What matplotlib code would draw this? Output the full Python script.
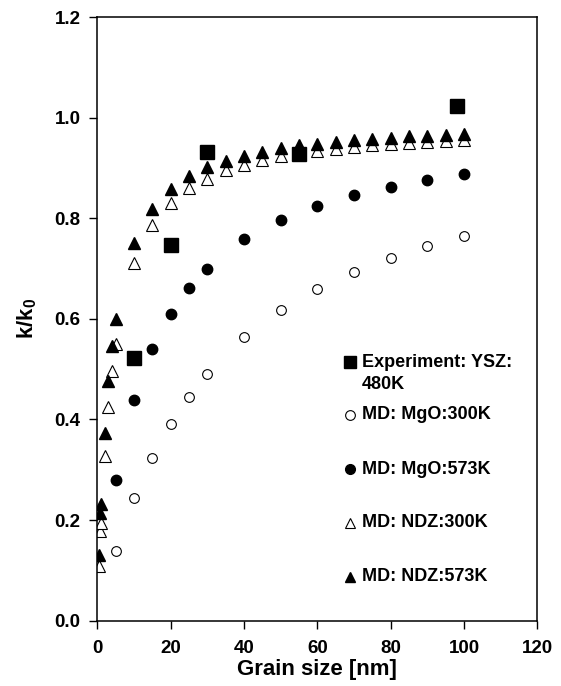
import matplotlib
matplotlib.use("Agg")
import matplotlib.pyplot as plt
from matplotlib.ticker import FormatStrFormatter

plt.rcParams['font.family'] = ['Liberation Sans', 'DejaVu Sans']
plt.rcParams['font.weight'] = 'bold'
plt.rcParams['mathtext.fontset'] = 'custom'
plt.rcParams['mathtext.rm'] = 'Liberation Sans:bold'
plt.rcParams['mathtext.bf'] = 'Liberation Sans:bold'

# experiment, YSZ 480K
exp_x = [10, 20, 30, 55, 98]
exp_y = [0.522, 0.747, 0.932, 0.928, 1.024]

# MD MgO
mgo_x = [5, 10, 15, 20, 25, 30, 40, 50, 60, 70, 80, 90, 100]
mgo300_y = [0.139, 0.243, 0.324, 0.391, 0.445, 0.491, 0.563, 0.617, 0.659, 0.693, 0.721, 0.744, 0.764]
mgo573_y = [0.280, 0.438, 0.540, 0.610, 0.662, 0.700, 0.758, 0.797, 0.825, 0.846, 0.863, 0.877, 0.888]

# MD NDZ
ndz_x = [0.5, 0.75, 1, 2, 3, 4, 5, 10, 15, 20, 25, 30, 35, 40, 45, 50,
         55, 60, 65, 70, 75, 80, 85, 90, 95, 100]
ndz300_y = [0.108, 0.178, 0.194, 0.327, 0.424, 0.496, 0.551, 0.711, 0.786, 0.830, 0.860, 0.878, 0.895,
            0.905, 0.916, 0.923, 0.928, 0.934, 0.938, 0.942, 0.945, 0.948, 0.950, 0.952, 0.953, 0.956]
ndz573_y = [0.130, 0.214, 0.231, 0.374, 0.476, 0.546, 0.599, 0.750, 0.818, 0.858, 0.883, 0.901, 0.914,
            0.924, 0.932, 0.939, 0.945, 0.948, 0.952, 0.956, 0.958, 0.960, 0.963, 0.964, 0.966, 0.968]

labels = ["Experiment: YSZ:", "MD: MgO:300K", "MD: MgO:573K", "MD: NDZ:300K", "MD: NDZ:573K"]

fig = plt.figure(figsize=(5.61, 6.86), dpi=100)
ax = fig.add_axes([0.1734, 0.0952, 0.7843, 0.880])

ax.plot(mgo_x, mgo300_y, 'o', ms=7, mfc='white', mec='black', mew=0.8, ls='none')
ax.plot(mgo_x, mgo573_y, 'o', ms=7.5, mfc='black', mec='black', ls='none')
ax.plot(ndz_x, ndz300_y, '^', ms=8, mfc='white', mec='black', mew=0.8, ls='none')
ax.plot(ndz_x, ndz573_y, '^', ms=8, mfc='black', mec='black', ls='none')
ax.plot(exp_x, exp_y, 's', ms=10.5, mfc='black', mec='black', ls='none')

# legend drawn by hand
leg_y = [0.428, 0.341, 0.251, 0.162, 0.073]
styles = [dict(marker='s', ms=8.5, mfc='black'),
          dict(marker='o', ms=7, mfc='white', mew=0.8),
          dict(marker='o', ms=7, mfc='black'),
          dict(marker='^', ms=7.5, mfc='white', mew=0.8),
          dict(marker='^', ms=7.5, mfc='black')]
for lab, yy, st in zip(labels, leg_y, styles):
    ax.plot([0.574], [yy], transform=ax.transAxes, mec='black', ls='none', clip_on=False, **st)
    ax.text(0.601, yy, lab, transform=ax.transAxes, fontsize=13, fontweight='bold', va='center', ha='left')
ax.text(0.601, 0.392, "480K", transform=ax.transAxes, fontsize=13, fontweight='bold', va='center', ha='left')

ax.set_xlim(0, 120)
ax.set_ylim(0, 1.2)
ax.set_xticks(range(0, 121, 20))
ax.set_yticks([0.0, 0.2, 0.4, 0.6, 0.8, 1.0, 1.2])
ax.yaxis.set_major_formatter(FormatStrFormatter('%.1f'))
ax.tick_params(direction='out', length=6, width=1, labelsize=13.5)
ax.tick_params(axis='x', pad=8)
ax.tick_params(axis='y', pad=6)
for lab in ax.get_xticklabels() + ax.get_yticklabels():
    lab.set_fontweight('bold')
for sp in ax.spines.values():
    sp.set_linewidth(1.1)

ax.set_xlabel('Grain size [nm]', fontsize=16, fontweight='bold', labelpad=1)
ax.set_ylabel(r'k/k$_\mathbf{0}$', fontsize=16, fontweight='bold', labelpad=11)

fig.savefig('out.png', dpi=100)
